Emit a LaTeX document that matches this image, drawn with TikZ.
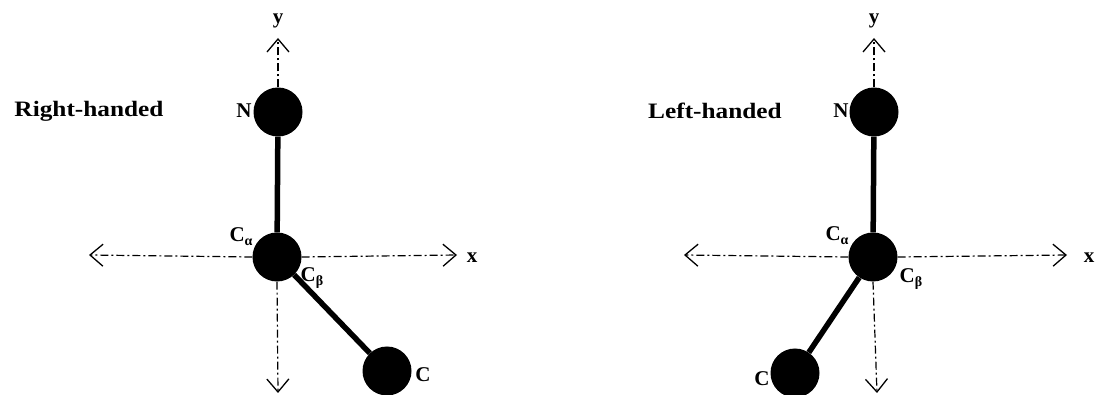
\documentclass[tikz,border=0pt]{standalone}
\usepackage{fontspec}
\setmainfont{Liberation Serif}
\usetikzlibrary{arrows.meta}
% subscript set in the text font (Greek letters from Liberation Serif)
\newcommand{\atomsub}[1]{\raisebox{-0.4ex}{\fontsize{14}{16}\selectfont #1}}
% slightly widened bold heading
\newcommand{\widehead}[1]{\scalebox{1.15}[1]{#1}}
\begin{document}
\begin{tikzpicture}[x=1pt,y=-1pt,
  atom/.style={circle,fill=black,minimum size=49pt,inner sep=0pt},
  bond/.style={line width=5.5pt},
  axis/.style={line width=1.2pt,dash pattern=on 8pt off 3pt on 2pt off 3pt,
    -{Straight Barb[length=13pt,width=22pt,line width=1.3pt]}},
  lbl/.style={font=\bfseries\fontsize{21}{24}\selectfont,inner sep=0pt},
  title/.style={font=\bfseries\fontsize{22}{26}\selectfont,inner sep=0pt}]
\useasboundingbox (0,0) rectangle (1096,395);

% ---- right-handed configuration ----
\node[title] (rh) at (89,111) {\widehead{Right-handed}};
\node[atom] (nA) at (278,112) {};
\node[atom] (caA) at (277,257) {};
\node[atom] (cA) at (387,371) {};
\coordinate (yA) at (278,38);
\coordinate (dA) at (278,393);
\coordinate (lA) at (89,255);
\coordinate (rA) at (457,255);
\draw[axis] (nA.north) -- (yA);
\draw[axis] (caA.west) -- (lA);
\draw[axis] (caA.east) -- (rA);
\draw[axis] (caA.south) -- (dA);
\draw[bond] (nA) -- (caA);
\draw[bond] (caA) -- (cA);
\node[lbl] (yAl) at (278,21) {y};
\node[lbl] (xAl) at (472,258) {x};
\node[lbl] (nAl) at (244,111) {N};
\node[lbl] (caAl) at (241,237) {C\atomsub{α}};
\node[lbl] (cbAl) at (312,278) {C\atomsub{β}};
\node[lbl] (cAl) at (423,375) {C};

% ---- left-handed configuration ----
\node[title] (lh) at (715,111) {\widehead{Left-handed}};
\node[atom] (nB) at (874,112) {};
\node[atom] (caB) at (873,257) {};
\node[atom] (cB) at (795,373) {};
\coordinate (yB) at (874,38);
\coordinate (dB) at (877,393);
\coordinate (lB) at (684,255);
\coordinate (rB) at (1067,255);
\draw[axis] (nB.north) -- (yB);
\draw[axis] (caB.west) -- (lB);
\draw[axis] (caB.east) -- (rB);
\draw[axis] (caB.south) -- (dB);
\draw[bond] (nB) -- (caB);
\draw[bond] (caB) -- (cB);
\node[lbl] (yBl) at (874,21) {y};
\node[lbl] (xBl) at (1089,258) {x};
\node[lbl] (nBl) at (841,111) {N};
\node[lbl] (caBl) at (837,236) {C\atomsub{α}};
\node[lbl] (cbBl) at (911,279) {C\atomsub{β}};
\node[lbl] (cBl) at (762,379) {C};
\end{tikzpicture}
\end{document}
